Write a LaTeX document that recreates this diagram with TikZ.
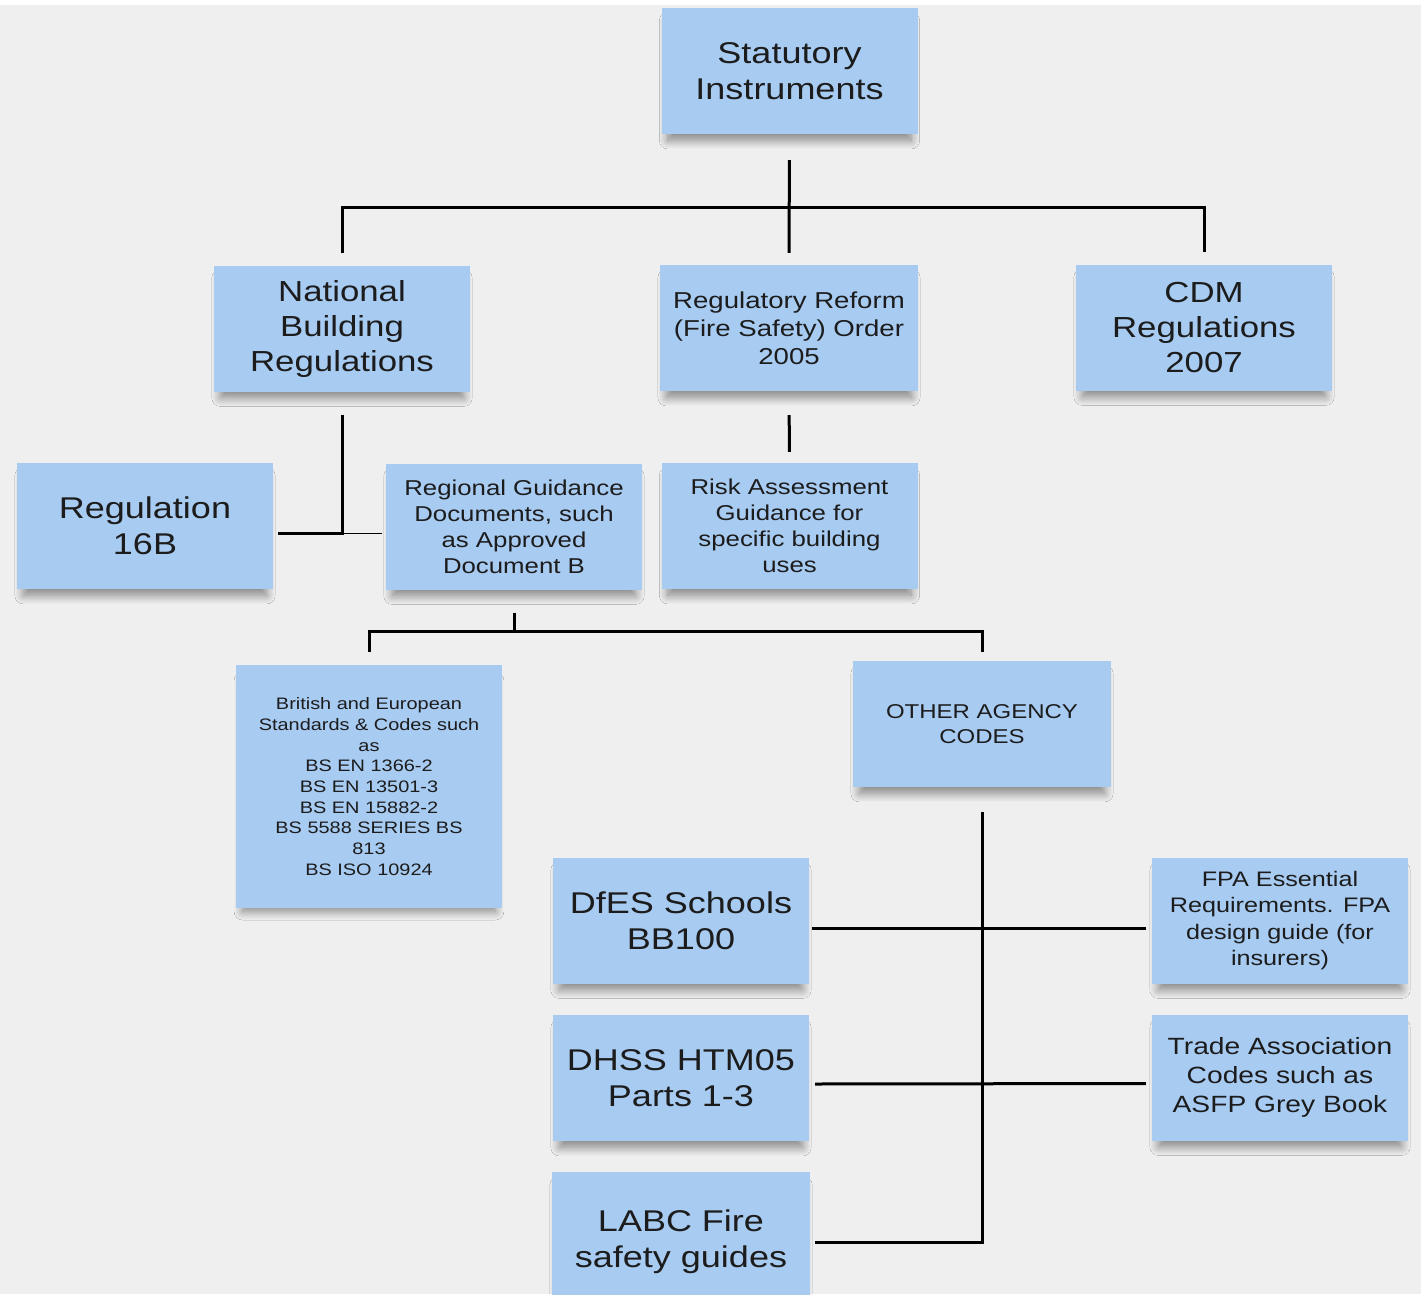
\documentclass[tikz,border=0pt]{standalone}
\usepackage{fontspec}
\setmainfont{Liberation Sans}[FakeStretch=1.2]
\usetikzlibrary{shadows.blur}
\definecolor{note}{RGB}{168,203,242}
\definecolor{paper}{RGB}{239,239,239}
\definecolor{ink}{RGB}{28,28,28}

\tikzset{
  card/.style={fill=note, minimum width=256pt, minimum height=126pt, inner sep=0pt,
    align=center, text=ink,
    blur shadow={shadow xshift=0pt, shadow yshift=-10pt, shadow scale=0.95,
      shadow blur radius=9pt, shadow opacity=45, shadow blur steps=16}},
  link/.style={draw=black, line width=3pt},
  hair/.style={draw=black, line width=1pt},
  huge text/.style={font=\fontsize{30}{36}\selectfont},
  large text/.style={font=\fontsize{29}{35}\selectfont},
  mid text/.style={font=\fontsize{23}{28}\selectfont},
  small text/.style={font=\fontsize{21.5}{26}\selectfont},
  tiny text/.style={font=\fontsize{16.6}{20.7}\selectfont},
}

\begin{document}
\begin{tikzpicture}[x=1pt, y=-1pt]
  \fill[white] (0,0) rectangle (1421,5);
  \fill[paper] (0,5) rectangle (1421,1294);
  \useasboundingbox (0,0) rectangle (1421,1294);

  % top level
  \node[card, huge text] (si) at (789.5,71) {Statutory\\Instruments};
  \node[card, large text] (nbr) at (342,328.5) {National\\Building\\Regulations};
  \node[card, mid text, minimum width=258pt] (rro) at (789,328) {Regulatory Reform\\(Fire Safety) Order\\2005};
  \node[card, large text] (cdm) at (1204,327.5) {CDM\\Regulations\\2007};

  % second level
  \node[card, huge text] (reg16) at (145,526) {Regulation\\16B};
  \node[card, small text] (rgd) at (514,526.5) {Regional Guidance\\Documents, such\\as Approved\\Document B};
  \node[card, small text] (risk) at (789.5,526) {Risk Assessment\\Guidance for\\specific building\\uses};

  % standards and codes
  \node[card, tiny text, minimum width=266pt, minimum height=243pt] (bse) at (369,786.5)
    {British and European\\Standards \& Codes such\\as\\BS EN 1366-2\\BS EN 13501-3\\BS EN 15882-2\\BS 5588 SERIES BS\\813\\BS ISO 10924};
  \node[card, font=\fontsize{20}{25}\selectfont, minimum width=258pt] (other) at (982,724) {OTHER AGENCY\\CODES};

  % agency codes
  \node[card, huge text] (dfes) at (681,920.5) {DfES Schools\\BB100};
  \node[card, huge text] (dhss) at (681,1078) {DHSS HTM05\\Parts 1-3};
  \node[card, huge text, minimum width=258pt, minimum height=140pt] (labc) at (681,1242) {LABC Fire\\safety guides};
  \node[card, font=\fontsize{21}{26.3}\selectfont] (fpa) at (1280,920.5) {FPA Essential\\Requirements. FPA\\design guide (for\\insurers)};
  \node[card, font=\fontsize{23.5}{29}\selectfont] (trade) at (1280,1077.5) {Trade Association\\Codes such as\\ASFP Grey Book};

  % connectors
  \draw[link, shorten <=26pt, shorten >=12pt] (si.south) -- (rro.north);
  \draw[link, shorten <=12pt, shorten >=12pt] (nbr.north) -- ++(0,-58) -| (cdm.north);
  \draw[link, shorten <=23pt, shorten >=5pt] (nbr.south) |- coordinate[pos=0.5] (nj) ([yshift=-7pt]reg16.east);
  \draw[hair, shorten >=4pt] (nj) -- (nj -| rgd.west);
  \draw[link, shorten <=24pt, shorten >=11pt] (rro.south) -- (risk.north);
  \draw[link, shorten <=23pt, shorten >=13pt] (rgd.south) -- ++(0,42) coordinate (rj) -| (bse.north);
  \draw[link, shorten >=9pt] (rj) -| (other.north);
  \draw[link, shorten <=25pt, shorten >=5pt] (other.south) |- (labc.east);
  \draw[link, shorten <=3pt, shorten >=6pt] ([yshift=-8pt]dfes.east) -- ([yshift=-8pt]fpa.west);
  \draw[link, shorten <=6pt, shorten >=6pt] ([yshift=-6pt]dhss.east) -- ([yshift=-6pt]trade.west);
\end{tikzpicture}
\end{document}
